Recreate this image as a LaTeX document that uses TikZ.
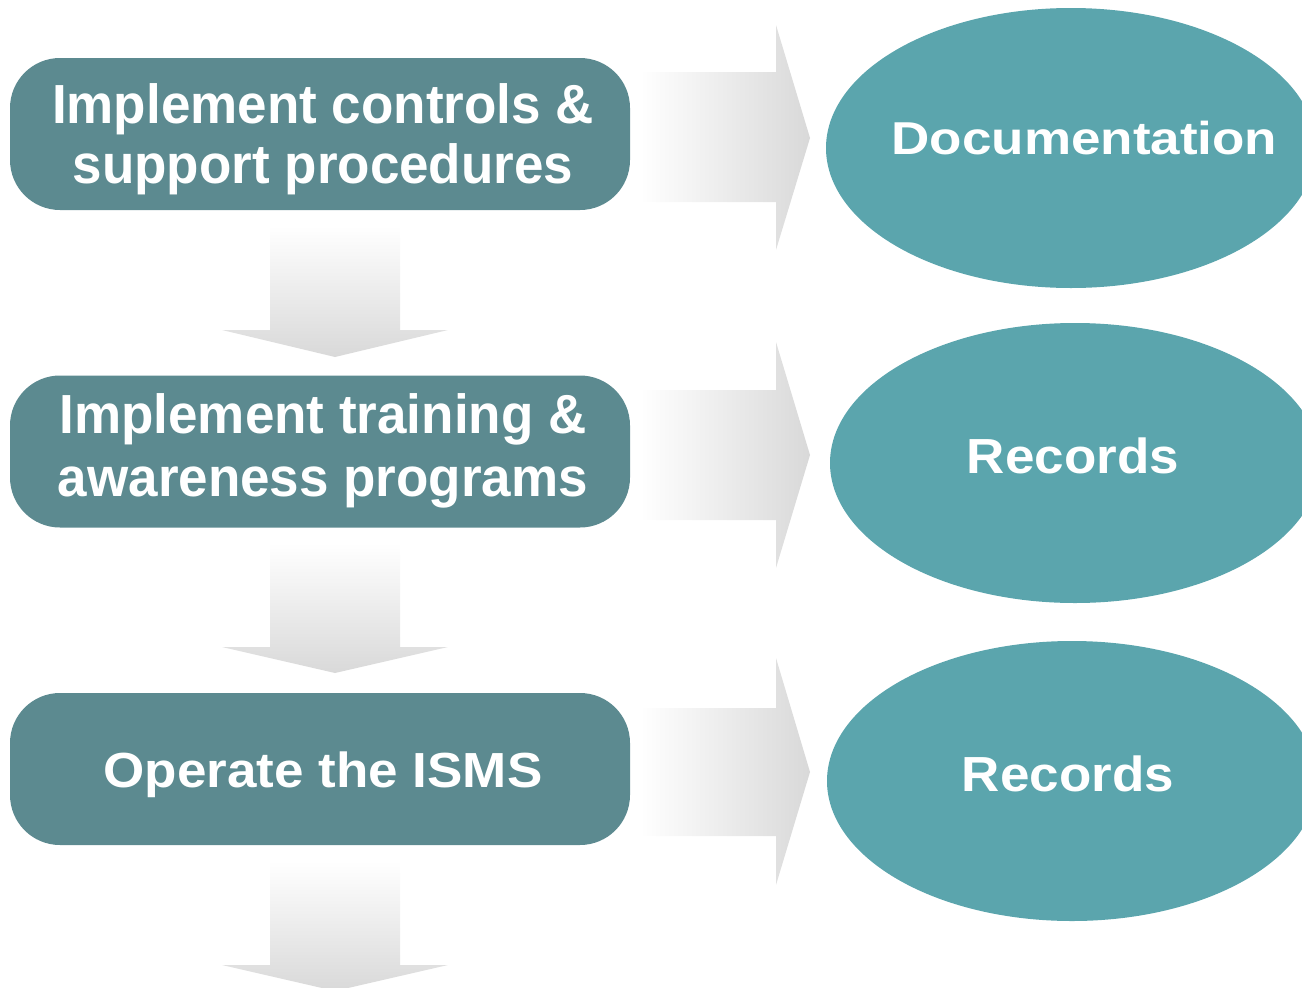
\documentclass[tikz,border=0pt]{standalone}
\usepackage{fontspec}
\usepackage{graphicx}
\setmainfont{Liberation Sans}
\usetikzlibrary{shapes.geometric}
\definecolor{boxc}{HTML}{5C8A90}
\definecolor{ellc}{HTML}{5BA5AD}
\newcommand{\vsc}[2]{\scalebox{1}[#1]{#2}}
\newcommand{\twolines}[3]{\begin{tabular}[t]{@{}c@{}}#1\\[#3]#2\end{tabular}}
\begin{document}
\begin{tikzpicture}[x=1pt,y=-1pt,
  bigfont/.style={font=\fontsize{53}{63}\selectfont\bfseries},
  stepbox/.style={fill=boxc, rounded corners=50pt, minimum width=620pt, minimum height=152pt, inner sep=0pt},
  outbox/.style={ellipse, fill=ellc, minimum width=490pt, minimum height=280pt, inner sep=0pt},
  txt/.style={text=white, bigfont, inner sep=0pt, anchor=base},
  rarrow/.style={left color=white, right color=black!15, draw=none},
  darrow/.style={top color=white, bottom color=black!15, draw=none}]
\useasboundingbox (0,0) rectangle (1302,988);
% flow arrows
\path[rarrow] (640,72) -- (776,72) -- (776,25) -- (810,138) -- (776,250) -- (776,202) -- (640,202) -- cycle;
\path[rarrow] (640,390) -- (776,390) -- (776,342) -- (810,455) -- (776,568) -- (776,520) -- (640,520) -- cycle;
\path[rarrow] (640,708) -- (776,708) -- (776,658) -- (810,772) -- (776,885) -- (776,836) -- (640,836) -- cycle;
\path[darrow] (270,226) -- (400,226) -- (400,330) -- (448,330) -- (335,357) -- (222,330) -- (270,330) -- cycle;
\path[darrow] (270,543) -- (400,543) -- (400,647) -- (448,647) -- (335,673) -- (222,647) -- (270,647) -- cycle;
\path[darrow] (270,861) -- (400,861) -- (400,965) -- (448,965) -- (335,991) -- (222,965) -- (270,965) -- cycle;
% steps
\node[stepbox] (b1) at (320,134) {};
\node[stepbox] (b2) at (320,451.5) {};
\node[stepbox] (b3) at (320,769) {};
\node[txt] (t1) at (323,123) {\vsc{1.04}{\twolines{Implement controls \&}{support procedures}{-5pt}}};
\node[txt] (t2) at (323,433.5) {\vsc{1.04}{\twolines{Implement training \&}{awareness programs}{-2pt}}};
\node[txt] (t3) at (323,787) {\vsc{0.93}{Operate the ISMS}};
% outputs
\node[outbox] (e1) at (1071,148) {};
\node[outbox] (e2) at (1075,463) {};
\node[outbox] (e3) at (1072,781) {};
\node[txt] (u1) at (1084.5,154) {\vsc{0.87}{Documentation}};
\node[txt] (u2) at (1073,473.5) {\vsc{0.93}{Records}};
\node[txt] (u3) at (1068,791.5) {\vsc{0.93}{Records}};
\end{tikzpicture}
\end{document}
